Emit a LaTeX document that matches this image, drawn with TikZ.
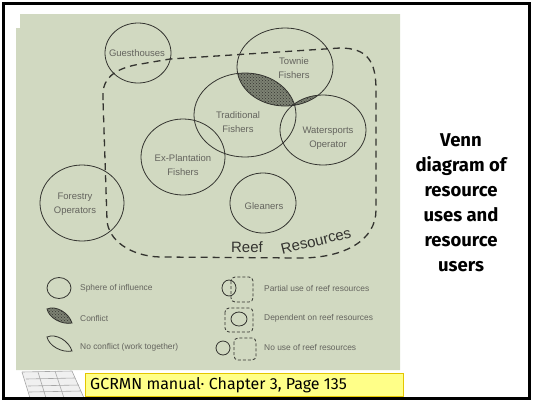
\documentclass[tikz,border=0pt]{standalone}
\usepackage{fontspec}
\setmainfont{Liberation Sans}
\newfontfamily\headfont{Fira Sans}
\usetikzlibrary{shapes.geometric,patterns}
\definecolor{panel}{RGB}{209,217,193}
\definecolor{ink}{RGB}{52,52,48}
\definecolor{softink}{RGB}{100,100,94}
\definecolor{hatchbase}{RGB}{125,130,115}
\definecolor{notebg}{RGB}{255,255,136}
\definecolor{noteedge}{RGB}{228,198,0}
\begin{document}
\begin{tikzpicture}[x=1pt,y=-1pt,
  sphere/.style={ellipse, draw=ink, line width=0.8pt, inner sep=0pt},
  lbl/.style={text=softink, font=\fontsize{9.5}{14}\selectfont, align=center, inner sep=0pt},
  legtxt/.style={text=softink, font=\fontsize{8.4}{9}\selectfont, anchor=west, inner sep=0pt},
  reefline/.style={draw=ink, line width=1.3pt, dash pattern=on 7pt off 5pt},
  reeftxt/.style={text=ink, font=\fontsize{15}{15}\selectfont, inner sep=0pt},
  smalldash/.style={draw=ink, line width=0.8pt, dash pattern=on 3pt off 2pt, rounded corners=4pt},
  hatched/.style={pattern=crosshatch dots, pattern color=ink},
]
\useasboundingbox (0,0) rectangle (533,400);
\fill[white] (0,0) rectangle (533,400);

% green drawing panel
\fill[panel] (20,14) -- (400,14) -- (400,370) -- (16,370) -- (16,28) -- (20,28) -- cycle;

% conflict zones: Townie with Traditional, Townie with Watersports
\begin{scope}
  \clip (285,67) ellipse [x radius=48pt, y radius=39pt];
  \fill[hatchbase] (245,115) ellipse [x radius=51pt, y radius=42pt];
  \fill[hatched] (245,115) ellipse [x radius=51pt, y radius=42pt];
  \fill[hatchbase] (323,130) ellipse [x radius=43pt, y radius=35pt];
  \fill[hatched] (323,130) ellipse [x radius=43pt, y radius=35pt];
\end{scope}

% reef resources boundary
\draw[reefline] (103,100) -- (103,92) .. controls (104,80) and (112,70) .. (135,65)
  -- (170,59) -- (340,48) .. controls (368,48) and (376,62) .. (376,90)
  -- (376,210) .. controls (376,240) and (345,258) .. (300,258)
  -- (160,257) .. controls (130,256) and (108,240) .. (107,220) -- cycle;
\node[reeftxt] (reefword) at (247,247) {Reef};
\node[reeftxt, rotate=14] (resword) at (316,241) {Resources};

% spheres of influence
\node[sphere, minimum width=66pt, minimum height=60pt] (guest) at (138,53) {};
\node[sphere, minimum width=96pt, minimum height=78pt] (townie) at (285,67) {};
\node[sphere, minimum width=102pt, minimum height=84pt] (trad) at (245,115) {};
\node[sphere, minimum width=86pt, minimum height=70pt] (water) at (323,130) {};
\node[sphere, minimum width=84pt, minimum height=76pt] (explant) at (183,157) {};
\node[sphere, minimum width=84pt, minimum height=76pt] (forest) at (82,203) {};
\node[sphere, minimum width=66pt, minimum height=60pt] (glean) at (263,203) {};

\node[lbl] (guest-t) at (137,53) {Guesthouses};
\node[lbl] (townie-t) at (294,68) {Townie\\Fishers};
\node[lbl] (trad-t) at (238,122) {Traditional\\Fishers};
\node[lbl] (water-t) at (328,138) {Watersports\\Operator};
\node[lbl] (explant-t) at (183,165) {Ex-Plantation\\Fishers};
\node[lbl] (forest-t) at (75,204) {Forestry\\Operators};
\node[lbl] (glean-t) at (264,206) {Gleaners};

% legend, left column
\node[sphere, minimum width=24pt, minimum height=21pt] (lg-sphere) at (59,288) {};
\node[legtxt] (lg-sphere-t) at (80,288) {Sphere of influence};
\fill[hatchbase] (47,309) .. controls (56,305) and (69,313) .. (72,323) .. controls (62,325) and (49,318) .. (47,309) -- cycle;
\filldraw[hatched, draw=ink, line width=0.8pt] (47,309) .. controls (56,305) and (69,313) .. (72,323) .. controls (62,325) and (49,318) .. (47,309) -- cycle;
\node[legtxt] (lg-conflict-t) at (80,318) {Conflict};
\draw[ink, line width=0.8pt] (47,337) .. controls (56,333) and (69,341) .. (72,351) .. controls (62,353) and (49,346) .. (47,337) -- cycle;
\node[legtxt] (lg-together-t) at (80,347) {No conflict (work together)};

% legend, right column
\node[sphere, minimum width=14pt, minimum height=16pt] (lg-partial) at (229,288) {};
\draw[smalldash] (231,277) rectangle (253,302);
\node[legtxt] (lg-partial-t) at (264,288) {Partial use of reef resources};
\draw[smalldash] (225,308) rectangle (253,332);
\node[sphere, minimum width=16pt, minimum height=14pt] (lg-dep) at (239,319) {};
\node[legtxt] (lg-dep-t) at (264,318) {Dependent on reef resources};
\node[sphere, minimum width=14pt, minimum height=14pt] (lg-none) at (223,348) {};
\draw[smalldash] (234,338) rectangle (256,360);
\node[legtxt] (lg-none-t) at (264,347) {No use of reef resources};

% title
\node[font=\headfont\bfseries\fontsize{18.5}{25}\selectfont, align=center, inner sep=0pt] (title) at (461,203)
  {Venn\\diagram of\\resource\\uses and\\resource\\users};

% book sketch
\fill[gray!12] (22,372) -- (72,371) -- (84,398) -- (30,398) -- cycle;
\begin{scope}[gray!70, line width=0.6pt]
  \draw (22,372) -- (72,371) -- (84,398);
  \draw (22,372) -- (30,398);
  \draw (26,379) -- (75,378);
  \draw (28,386) -- (79,385);
  \draw (29,392) -- (81,391);
  \draw (38,372) -- (46,398);
  \draw (55,371) -- (64,398);
\end{scope}

% source note
\node[draw=noteedge, fill=notebg, line width=1pt, minimum width=318pt, minimum height=23pt,
  anchor=north west, inner sep=0pt] (note) at (85,373) {};
\node[anchor=west, font=\headfont\fontsize{16}{16}\selectfont, inner sep=0pt] (note-t) at (90,385)
  {GCRMN manual· Chapter 3, Page 135};

% frame
\draw[line width=3pt] (3.5,3.5) rectangle (529.5,398.5);
\end{tikzpicture}
\end{document}
